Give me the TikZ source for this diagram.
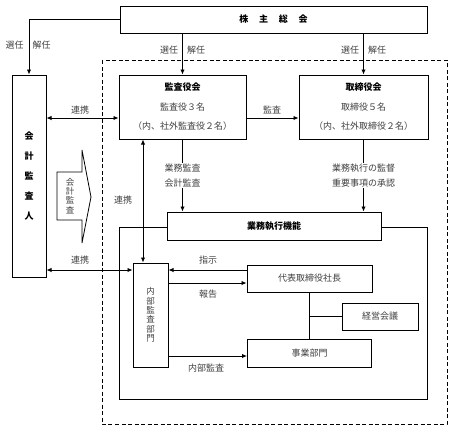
\documentclass[tikz,border=0pt]{standalone}
\usepackage{fontspec}
\setmainfont{Noto Sans CJK JP}
\usetikzlibrary{arrows.meta}
\tikzset{
  box/.style={draw, line width=1pt, fill=white, inner sep=0pt, align=center,
    font=\fontsize{9}{10}\selectfont, text=black!75},
  head/.style={font=\bfseries\fontsize{9}{10}\selectfont, text=black},
  lbl/.style={font=\fontsize{9}{15}\selectfont, text=black!75, inner sep=1pt, align=center},
  arr/.style={-{Latex[length=5pt,width=4.5pt]}},
  darr/.style={{Latex[length=5pt,width=4.5pt]}-{Latex[length=5pt,width=4.5pt]}},
}
\begin{document}
\begin{tikzpicture}[x=1pt, y=-1pt, line width=0.9pt]
\useasboundingbox (0,0) rectangle (456,429);
\draw[dash pattern=on 4pt off 2.5pt] (102,60) rectangle (447,424);
\draw (119,227) rectangle (427,399);
\node[box, head, minimum width=307, minimum height=27] (soukai) at (273.5,19.5)
  {株\hspace{1.2em}主\hspace{1.2em}総\hspace{1.2em}会};
\node[box, minimum width=34, minimum height=202, font=\bfseries\fontsize{9}{20}\selectfont, text=black]
  (kaikei) at (29,176) {会\\計\\監\\査\\人};
\node[box, minimum width=127, minimum height=64, font=\fontsize{9}{19.5}\selectfont]
  (kansayaku) at (182.5,107) {{\bfseries\color{black}監査役会}\\監査役３名\\（内、社外監査役２名）};
\node[box, minimum width=129, minimum height=64, font=\fontsize{9}{19.5}\selectfont]
  (torishimari) at (363.5,107) {{\bfseries\color{black}取締役会}\\取締役５名\\（内、社外取締役２名）};
\node[box, head, minimum width=214, minimum height=28] (gyomu) at (274,226) {業務執行機能};
\node[box, minimum width=35, minimum height=104, font=\fontsize{8.5}{9.3}\selectfont]
  (naibu) at (150.5,315) {内\\部\\監\\査\\部\\門};
\node[box, minimum width=125, minimum height=27] (daihyo) at (309.5,278.5) {代表取締役社長};
\node[box, minimum width=124, minimum height=28] (jigyo) at (309.5,353) {事業部門};
\node[box, minimum width=76, minimum height=27] (keiei) at (380,316.5) {経営会議};

\draw[line width=0.8pt] (57,172) -- (82,172) -- (82,150) -- (91,197) -- (82,243)
  -- (82,220) -- (57,220) -- cycle;
\node[lbl, font=\fontsize{8.5}{9.3}\selectfont] (kaikeikansa) at (70,196) {会\\計\\監\\査};

\draw[arr] (soukai.west) -| (kaikei.north);
\node[lbl] (sennin1) at (28,45) {選任　解任};
\draw[arr] (soukai.south -| kansayaku.north) -- (kansayaku.north);
\node[lbl] (sennin2) at (182.5,50) {選任　解任};
\draw[arr] (soukai.south -| torishimari.north) -- (torishimari.north);
\node[lbl] (sennin3) at (363.5,50) {選任　解任};

\draw[arr] ([yshift=-11pt]kansayaku.east) -- ([yshift=-11pt]torishimari.west);
\node[lbl] (kansa) at (272,110) {監査};
\draw[darr] (kaikei.east |- 0,118) -- ([yshift=-11pt]kansayaku.west);
\node[lbl] (renkei1) at (80,110) {連携};
\draw[darr] (kansayaku.south -| 143,0) -- (naibu.north -| 143,0);
\node[lbl] (renkei2) at (123,200) {連携};
\draw[darr] (kaikei.east |- 0,270) -- (naibu.west |- 0,270);
\node[lbl] (renkei3) at (80,260) {連携};

\draw[arr] (kansayaku.south) -- node[lbl, fill=white] (gyomukansa) {業務監査\\会計監査}
  (kansayaku.south |- gyomu.north);
\draw[arr] (torishimari.south) -- node[lbl, fill=white] (kantoku) {業務執行の監督\\重要事項の承認}
  (torishimari.south |- gyomu.north);

\draw[arr] ([yshift=8.5pt]daihyo.west) -- (naibu.east |- 0,270);
\node[lbl] (shiji) at (208,260) {指示};
\draw[arr] (naibu.east |- 0,283) -- ([yshift=-4.5pt]daihyo.west);
\node[lbl] (houkoku) at (208,294) {報告};
\draw[arr] (naibu.east |- 0,356) -- ([yshift=-3pt]jigyo.west);
\node[lbl] (naibukansa) at (206,368) {内部監査};

\draw (daihyo.south) -- (daihyo.south |- jigyo.north);
\draw (keiei.west) -- (keiei.west -| daihyo.south);
\end{tikzpicture}
\end{document}
